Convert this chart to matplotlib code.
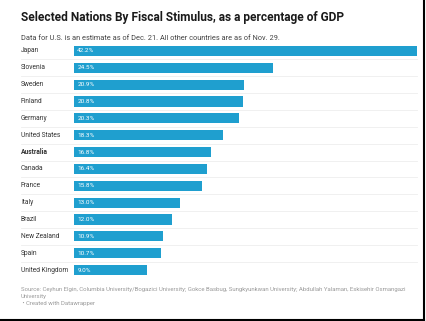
import matplotlib
matplotlib.use("Agg")
import matplotlib.pyplot as plt
from matplotlib.lines import Line2D

countries = ["Japan", "Slovenia", "Sweden", "Finland", "Germany", "United States",
             "Australia", "Canada", "France", "Italy", "Brazil", "New Zealand",
             "Spain", "United Kingdom"]
values = [42.2, 24.5, 20.9, 20.8, 20.3, 18.3, 16.8, 16.4, 15.8, 13.0, 12.0, 10.9, 10.7, 9.0]
highlight = "Australia"

W, H = 427, 321
fig = plt.figure(figsize=(W / 100, H / 100), dpi=100)
fig.patch.set_facecolor("white")

font = "Roboto"
bar_color = "#1f9fcf"

# plot area in pixel coordinates
x0, x1 = 74, 417
row_top, row_pitch = 51, 16.85
n = len(countries)
y_top = row_top - row_pitch / 2
y_bot = row_top + row_pitch * (n - 1) + row_pitch / 2
ax = fig.add_axes([x0 / W, 1 - y_bot / H, (x1 - x0) / W, (y_bot - y_top) / H])
ax.set_xlim(0, max(values))
ax.set_ylim(n - 0.5, -0.5)
ax.axis("off")

ypos = list(range(n))
ax.barh(ypos, values, height=0.6, color=bar_color, edgecolor="none")

lab_off = (21 - x0) / (x1 - x0)
for i, (c, v) in enumerate(zip(countries, values)):
    ax.text(0.4, i, f"{v:.1f}%", color="white", fontsize=4.6, family=font,
            va="center", ha="left")
    ax.text(lab_off, i, c, transform=ax.get_yaxis_transform(), fontsize=4.8,
            family=font, va="center", ha="left", color="#333333",
            fontweight="bold" if c == highlight else "normal")
    if i < n - 1:
        ax.axhline(i + 0.5, xmin=lab_off, xmax=1.0, color="#eeeeee", lw=0.6,
                   clip_on=False, zorder=0)

fig.text(21 / W, 1 - 18 / H, "Selected Nations By Fiscal Stimulus, as a percentage of GDP",
         fontsize=8.55, fontweight="bold", family=font, color="#1a1a1a",
         va="center", ha="left")
fig.text(21 / W, 1 - 38 / H,
         "Data for U.S. is an estimate as of Dec. 21. All other countries are as of Nov. 29.",
         fontsize=5.35, family=font, color="#444444", va="center", ha="left")

src_kw = dict(fontsize=4.35, family=font, color="#9a9a9a", va="center", ha="left")
fig.text(21 / W, 1 - 289 / H,
         "Source: Ceyhun Elgin, Columbia University/Bogazici University; Gokce Basbug, "
         "Sungkyunkwan University; Abdullah Yalaman, Eskisehir Osmangazi", **src_kw)
fig.text(21 / W, 1 - 296.5 / H, "University", **src_kw)
fig.text(21 / W, 1 - 304 / H, " \u2022 Created with Datawrapper", **src_kw)

# dark frame on the right and bottom edges
fig.add_artist(Line2D([424.5 / W, 424.5 / W], [1 - 0 / H, 1 - 319.5 / H],
                      transform=fig.transFigure, color="black", lw=1.5))
fig.add_artist(Line2D([0, 424.5 / W], [1 - 319.5 / H, 1 - 319.5 / H],
                      transform=fig.transFigure, color="black", lw=1.5))

fig.savefig("out.png", dpi=100, facecolor="white")
